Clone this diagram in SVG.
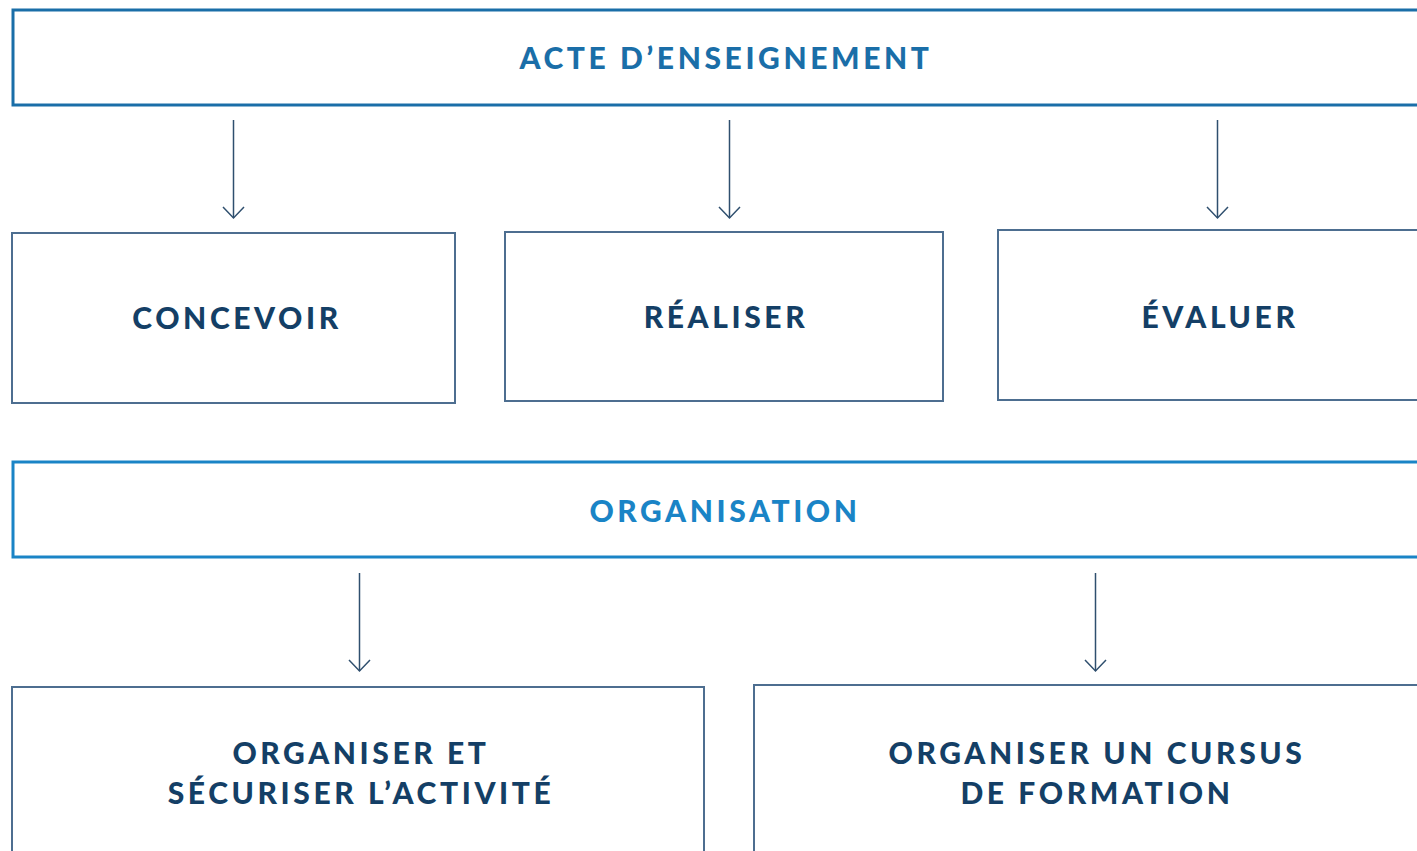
<svg xmlns="http://www.w3.org/2000/svg" width="1417" height="851" viewBox="0 0 1417 851">
<style>
.hdr{fill:#fff;stroke-width:3}
.box{fill:#fff;stroke:#4d6e90;stroke-width:2}
.t{font-family:"Lato","Noto Sans",sans-serif;font-weight:900;font-size:30px;letter-spacing:3.6px;text-anchor:middle}
.dark{fill:#143f66}
.conn line,.conn path{stroke:#2f4f6e;stroke-width:1.5;fill:none}
</style>
<g id="acte">
<rect class="hdr" x="13" y="10" width="1420" height="95" stroke="#1a6ea8"/>
<text class="t" x="726" y="69" fill="#1a6ea8" font-size="29" letter-spacing="3.2">ACTE D’ENSEIGNEMENT</text>
</g>
<g id="concevoir">
<rect class="box" x="12" y="233" width="443" height="170"/>
<text class="t dark" x="237" y="329">CONCEVOIR</text>
</g>
<g id="realiser">
<rect class="box" x="505" y="232" width="438" height="169"/>
<text class="t dark" x="726" y="328">RÉALISER</text>
</g>
<g id="evaluer">
<rect class="box" x="998" y="230" width="440" height="170"/>
<text class="t dark" x="1220" y="328">ÉVALUER</text>
</g>
<g id="organisation">
<rect class="hdr" x="13" y="462" width="1420" height="95" stroke="#1a84c6"/>
<text class="t" x="725" y="522" fill="#1a84c6" font-size="29" letter-spacing="3.2">ORGANISATION</text>
</g>
<g id="organiser-securiser">
<rect class="box" x="12" y="687" width="692" height="200"/>
<text class="t dark" x="361" y="764">ORGANISER ET</text>
<text class="t dark" x="361" y="804">SÉCURISER L’ACTIVITÉ</text>
</g>
<g id="organiser-cursus">
<rect class="box" x="754" y="685" width="690" height="200"/>
<text class="t dark" x="1097" y="764">ORGANISER UN CURSUS</text>
<text class="t dark" x="1097" y="804">DE FORMATION</text>
</g>
<g class="conn" id="connectors">
<line x1="233.5" y1="120" x2="233.5" y2="218"/><path d="M223,207 L233.5,218 L244,207"/>
<line x1="729.5" y1="120" x2="729.5" y2="218"/><path d="M719,207 L729.5,218 L740,207"/>
<line x1="1217.5" y1="120" x2="1217.5" y2="218"/><path d="M1207,207 L1217.5,218 L1228,207"/>
<line x1="359.5" y1="573" x2="359.5" y2="671"/><path d="M349,660 L359.5,671 L370,660"/>
<line x1="1095.5" y1="573" x2="1095.5" y2="671"/><path d="M1085,660 L1095.5,671 L1106,660"/>
</g>
</svg>
